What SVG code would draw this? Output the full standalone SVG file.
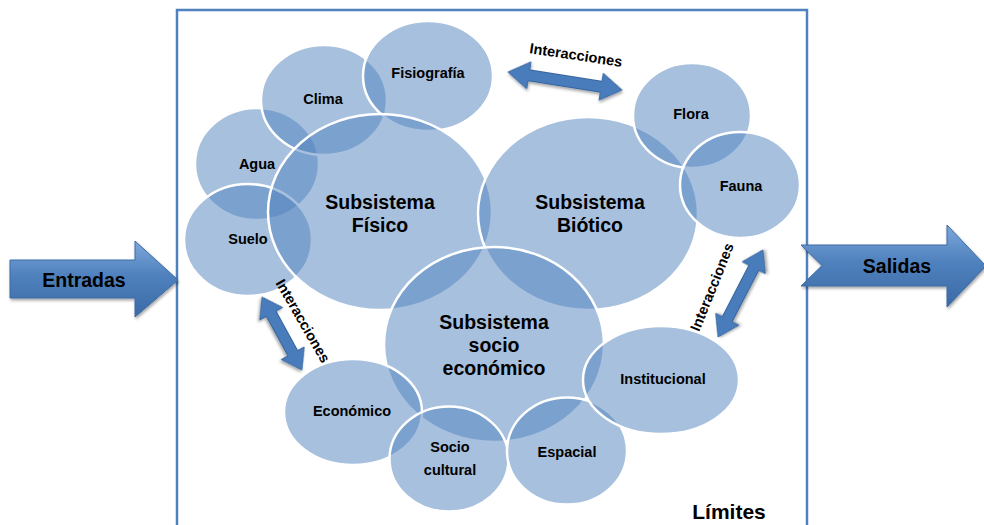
<svg xmlns="http://www.w3.org/2000/svg" width="984" height="525" viewBox="0 0 984 525">
<defs>
<linearGradient id="gBlue" x1="0" y1="0" x2="0" y2="1">
<stop offset="0" stop-color="#7ea8dc"/>
<stop offset="0.45" stop-color="#4f81bd"/>
<stop offset="1" stop-color="#3b6aa6"/>
</linearGradient>
<filter id="shadow" x="-20%" y="-20%" width="140%" height="150%">
<feDropShadow dx="1" dy="2" stdDeviation="1.5" flood-color="#000" flood-opacity="0.35"/>
</filter>
<style>
.c{fill:#4f81bd;fill-opacity:0.5;stroke:#fff;stroke-width:2.5}
.t{font-family:"Liberation Sans",Arial,sans-serif;font-weight:bold;fill:#000;text-anchor:middle;dominant-baseline:central}
.s{font-size:14.5px}
.b{font-size:19.5px}
.big{fill:url(#gBlue);stroke:#3c6ba5;stroke-width:1;filter:url(#shadow)}
.da{fill:#4a7cbb;stroke:#36649d;stroke-width:1;filter:url(#shadow)}
.frame{fill:none;stroke:#4f81bd;stroke-width:2.5}
</style>
</defs>
<rect width="984" height="525" fill="#fff"/>
<rect class="frame" x="177" y="10" width="630" height="530"/>

<g id="agua"><ellipse class="c" cx="257" cy="164" rx="62" ry="56"/><text class="t s" x="257" y="164">Agua</text></g>
<g id="suelo"><ellipse class="c" cx="248" cy="240" rx="64" ry="56"/><text class="t s" x="248" y="239">Suelo</text></g>
<g id="clima"><ellipse class="c" cx="324" cy="100" rx="63" ry="55"/><text class="t s" x="323" y="99">Clima</text></g>
<g id="fisiografia"><ellipse class="c" cx="428" cy="76" rx="65" ry="55"/><text class="t s" x="428" y="73">Fisiografía</text></g>
<g id="fisico"><ellipse class="c" cx="380" cy="212" rx="112" ry="98"/><text class="t b" x="380" y="202">Subsistema</text><text class="t b" x="380" y="225">Físico</text></g>
<g id="biotico"><ellipse class="c" cx="588" cy="213.5" rx="110" ry="96.5"/><text class="t b" x="590" y="202">Subsistema</text><text class="t b" x="590" y="225">Biótico</text></g>
<g id="flora"><ellipse class="c" cx="692" cy="115.5" rx="59" ry="52.5"/><text class="t s" x="691" y="114">Flora</text></g>
<g id="fauna"><ellipse class="c" cx="740" cy="185" rx="60" ry="53"/><text class="t s" x="741" y="186">Fauna</text></g>
<g id="socioeconomico"><ellipse class="c" cx="494" cy="344.5" rx="110" ry="97.5"/><text class="t b" x="494" y="322">Subsistema</text><text class="t b" x="494" y="345">socio</text><text class="t b" x="494" y="368">económico</text></g>
<g id="economico"><ellipse class="c" cx="353" cy="412" rx="69" ry="53"/><text class="t s" x="352" y="411">Económico</text></g>
<g id="sociocultural"><ellipse class="c" cx="449" cy="459" rx="59.5" ry="52.5"/><text class="t s" x="450" y="447">Socio</text><text class="t s" x="450" y="470">cultural</text></g>
<g id="espacial"><ellipse class="c" cx="567" cy="451" rx="60" ry="53.5"/><text class="t s" x="567" y="452">Espacial</text></g>
<g id="institucional"><ellipse class="c" cx="661" cy="380" rx="78" ry="54"/><text class="t s" x="663" y="379">Institucional</text></g>

<g id="entradas">
<path class="big" d="M10,260 L135,260 L135,241 L178,280 L135,317 L135,298 L10,298 Z"/>
<text class="t b" x="84" y="280">Entradas</text>
</g>
<g id="salidas">
<path class="big" d="M801,245 L947,245 L947,225 L986,266 L947,307 L947,286 L801,286 L822,265.5 Z"/>
<text class="t b" x="897" y="266">Salidas</text>
</g>

<g id="limites"><text class="t" x="729" y="511" style="font-size:21px">Límites</text></g>

<g id="connectors">
<path class="da" transform="translate(565 81) rotate(9)" d="M-57.7,0 L-36.7,-13.5 L-36.7,-5.5 L36.7,-5.5 L36.7,-13.5 L57.7,0 L36.7,13.5 L36.7,5.5 L-36.7,5.5 L-36.7,13.5 Z"/>
<text class="t s" transform="translate(576 55) rotate(8.5)">Interacciones</text>
<path class="da" transform="translate(282 333.5) rotate(61.3)" d="M-41.6,0 L-22.6,-13 L-22.6,-5.5 L22.6,-5.5 L22.6,-13 L41.6,0 L22.6,13 L22.6,5.5 L-22.6,5.5 L-22.6,13 Z"/>
<text class="t s" transform="translate(303 321) rotate(60)">Interacciones</text>
<path class="da" transform="translate(740.5 293.5) rotate(-62.7)" d="M-49,0 L-29,-13 L-29,-5.5 L29,-5.5 L29,-13 L49,0 L29,13 L29,5.5 L-29,5.5 L-29,13 Z"/>
<text class="t s" transform="translate(712 287) rotate(-68)">Interacciones</text>
</g>
</svg>
